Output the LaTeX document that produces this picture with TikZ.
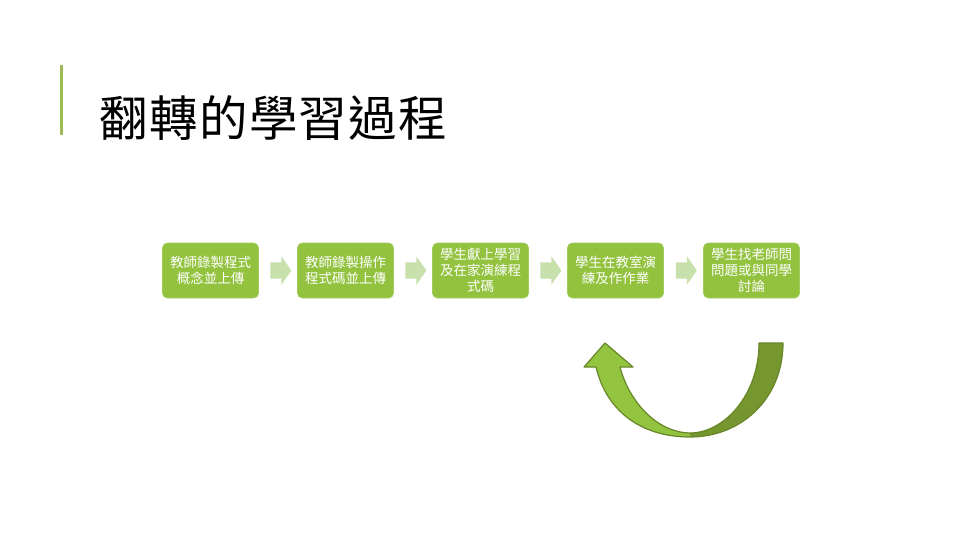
\documentclass[tikz,border=0pt]{standalone}
\usepackage{fontspec}
\newfontfamily\cjk{Noto Sans CJK TC}
\newfontfamily\cjktitle[LetterSpace=3]{Noto Sans CJK TC}
\usetikzlibrary{shapes.arrows,calc}
\definecolor{barGreen}{RGB}{155,187,89}
\definecolor{boxGreen}{RGB}{146,194,62}
\definecolor{lightArrow}{RGB}{200,224,172}
\definecolor{curveLight}{RGB}{146,196,64}
\definecolor{curveDark}{RGB}{118,150,48}
\definecolor{curveLine}{RGB}{104,134,40}
\tikzset{
  stepbox/.style={rectangle, rounded corners=5pt, fill=boxGreen, draw=boxGreen!85!white, line width=0.8pt,
    minimum width=96pt, minimum height=55pt, text=white, align=center, inner sep=2pt,
    font=\cjk\fontsize{13.5}{16}\selectfont},
  flowarrow/.style={single arrow, fill=lightArrow, draw=none, inner xsep=0pt, inner ysep=8pt,
    minimum height=21pt, single arrow head extend=6pt, single arrow tip angle=110},
}
\begin{document}
\begin{tikzpicture}[x=1pt,y=-1pt]
\useasboundingbox (0,0) rectangle (960,540);
% title bar and title
\draw[barGreen, line width=3pt] (61,65) coordinate (barTop) -- (61,135) coordinate (barBot);
\node[anchor=west, inner sep=0pt, font=\cjktitle\fontsize{48.5}{52}\selectfont] (title) at (99,118) {翻轉的學習過程};
% process boxes
\node[stepbox] (b1) at (210.5,270.5) {教師錄製程式\\概念並上傳};
\node[stepbox] (b2) at (345.5,270.5) {教師錄製操作\\程式碼並上傳};
\node[stepbox] (b3) at (480.5,270.5) {學生獻上學習\\及在家演練程\\式碼};
\node[stepbox] (b4) at (615.5,270.5) {學生在教室演\\練及作作業};
\node[stepbox] (b5) at (751.5,270.5) {學生找老師問\\問題或與同學\\討論};
% flow arrows
\node[flowarrow] (a1) at ($(b1.east)!0.5!(b2.west)$) {};
\node[flowarrow] (a2) at ($(b2.east)!0.5!(b3.west)$) {};
\node[flowarrow] (a3) at ($(b3.east)!0.5!(b4.west)$) {};
\node[flowarrow] (a4) at ($(b4.east)!0.5!(b5.west)$) {};
% curved return arrow
\coordinate (cbot) at (690,437);
\fill[curveDark] (759,343) -- (783,343) .. controls (783,398) and (742,437) .. (690,437)
  -- (690,433) .. controls (724,433) and (759,395) .. (759,343) -- cycle;
\fill[curveLight] (690,437) .. controls (640,437) and (606,410) .. (596,367) -- (584,367) -- (605,343)
  -- (633,367) -- (620,367) .. controls (630,405) and (660,433) .. (690,433) -- cycle;
\draw[curveLine, line width=1.2pt, line join=round]
  (759,343) -- (783,343) .. controls (783,398) and (742,437) .. (690,437)
  .. controls (640,437) and (606,410) .. (596,367) -- (584,367) -- (605,343)
  -- (633,367) -- (620,367) .. controls (630,405) and (660,433) .. (690,433)
  .. controls (724,433) and (759,395) .. (759,343) -- cycle;
\end{tikzpicture}
\end{document}
